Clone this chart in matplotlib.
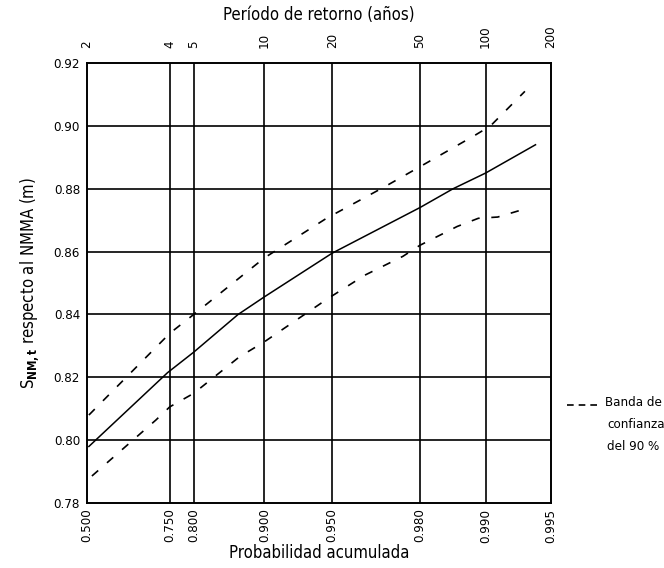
import numpy as np
import matplotlib
matplotlib.use("Agg")
import matplotlib.pyplot as plt

plt.rcParams['font.family'] = ['Liberation Sans Narrow', 'DejaVu Sans']
plt.rcParams['font.stretch'] = 'condensed'

# probabilidad acumulada (eje x, escala de Gumbel) y niveles (m)
p_central = [0.507, 0.745, 0.80, 0.870, 0.90, 0.95, 0.98, 0.9859, 0.99, 0.9941]
s_central = [0.798, 0.8215, 0.828, 0.840, 0.8456, 0.8595, 0.874, 0.880, 0.885, 0.894]

p_upper = [0.507, 0.75, 0.80, 0.90, 0.947, 0.971, 0.98, 0.9888, 0.9905, 0.9934]
s_upper = [0.808, 0.834, 0.840, 0.858, 0.8706, 0.8806, 0.887, 0.897, 0.900, 0.911]

p_lower = [0.518, 0.7164, 0.75, 0.80, 0.8716, 0.90, 0.9476, 0.9644, 0.9761,
           0.98, 0.9865, 0.9892, 0.9912, 0.99356]
s_lower = [0.7886, 0.8064, 0.8106, 0.8149, 0.8265, 0.8313, 0.845, 0.8525, 0.8585,
           0.862, 0.868, 0.8706, 0.871, 0.8738]

prob_ticks = [0.500, 0.750, 0.800, 0.900, 0.950, 0.980, 0.990, 0.995]
prob_labels = ["0.500", "0.750", "0.800", "0.900", "0.950", "0.980", "0.990", "0.995"]
periodos = [2, 4, 5, 10, 20, 50, 100, 200]
y_ticks = [0.78, 0.80, 0.82, 0.84, 0.86, 0.88, 0.90, 0.92]


def gumbel(p):
    p = np.clip(np.asarray(p, dtype=float), 1e-9, 1 - 1e-9)
    return -np.log(-np.log(p))


def gumbel_inv(u):
    return np.exp(-np.exp(-np.asarray(u, dtype=float)))


fig = plt.figure(figsize=(6.64, 5.68), dpi=100)
ax = fig.add_axes([0.131, 0.1144, 0.699, 0.7746])
ax.set_xscale("function", functions=(gumbel, gumbel_inv))
ax.set_xlim(0.5, 0.995)
ax.set_ylim(0.78, 0.92)

for p in prob_ticks[1:-1]:
    ax.axvline(p, color="black", lw=1.2, zorder=1)
for y in y_ticks[1:-1]:
    ax.axhline(y, color="black", lw=1.2, zorder=1)

ax.plot(p_central, s_central, color="black", lw=1.1, zorder=3)
ax.plot(p_upper, s_upper, color="black", lw=1.2, ls=(0, (5, 7)), zorder=3)
ax.plot(p_lower, s_lower, color="black", lw=1.2, ls=(0, (5, 7)), zorder=3)

for s in ax.spines.values():
    s.set_linewidth(1.2)

ax.set_xticks(prob_ticks)
ax.set_xticklabels(prob_labels, rotation=90, fontsize=9.5)
ax.minorticks_off()
ax.set_yticks(y_ticks)
ax.set_yticklabels([f"{v:.2f}" for v in y_ticks], fontsize=9.5)
ax.tick_params(axis="both", length=0, pad=5)
ax.tick_params(axis="x", pad=4)
ax.set_xlabel("Probabilidad acumulada", fontsize=12, labelpad=1)
ax.set_ylabel(r"S$_{\mathbf{NM,t}}$ respecto al NMMA (m)", fontsize=12, labelpad=9)

top = ax.twiny()
top.set_xscale("function", functions=(gumbel, gumbel_inv))
top.set_xlim(ax.get_xlim())
top.set_xticks([1 - 1 / t for t in periodos])
top.set_xticklabels([str(t) for t in periodos], rotation=90, fontsize=9.5)
top.minorticks_off()
top.tick_params(length=0, pad=11)
top.set_xlabel("Período de retorno (años)", fontsize=12, labelpad=4)
for s in top.spines.values():
    s.set_linewidth(1.2)

# leyenda a la derecha
fig.lines.append(plt.Line2D([567 / 664, 600 / 664], [1 - 405 / 568] * 2,
                            transform=fig.transFigure, color="black", lw=1.2,
                            ls=(0, (4, 3))))
fig.text(605 / 664, 1 - 403 / 568, "Banda de", fontsize=9.5, va="center", ha="left")
fig.text(607 / 664, 1 - 425 / 568, "confianza", fontsize=9.5, va="center", ha="left")
fig.text(607 / 664, 1 - 447 / 568, "del 90 %", fontsize=9.5, va="center", ha="left")

fig.savefig("out.png", dpi=100)
